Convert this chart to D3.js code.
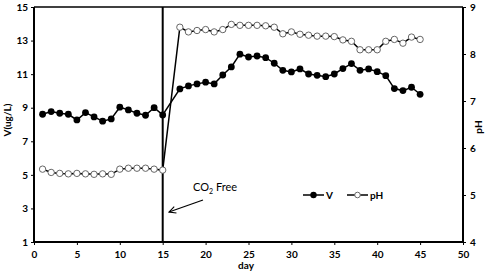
<!DOCTYPE html>
<html>
<head>
<meta charset="utf-8">
<script src="https://cdn.jsdelivr.net/npm/d3@7"></script>
<style>
  body { margin: 0; background: #fff; }
  svg text { font-family: Lato, "Open Sans", sans-serif; }
</style>
</head>
<body>
<svg id="chart" width="486" height="272"></svg>
<script>
// data (day 16 has no sample)
var days = [1,2,3,4,5,6,7,8,9,10,11,12,13,14,15,17,18,19,20,21,22,23,24,25,26,27,28,29,30,31,32,33,34,35,36,37,38,39,40,41,42,43,44,45];
var vValues = [8.61,8.77,8.67,8.61,8.27,8.71,8.45,8.2,8.33,9.03,8.87,8.67,8.55,9.0,8.57,
  10.12,10.3,10.42,10.52,10.42,10.95,11.43,12.19,12.02,12.08,11.98,11.65,11.23,11.13,11.31,11.01,10.93,10.85,11.01,11.33,11.63,11.23,11.31,11.15,10.91,10.14,10.02,10.22,9.8];
var phValues = [5.55,5.48,5.46,5.45,5.46,5.45,5.44,5.45,5.44,5.55,5.57,5.57,5.57,5.55,5.53,
  8.57,8.47,8.5,8.52,8.47,8.52,8.63,8.61,8.61,8.61,8.6,8.57,8.43,8.47,8.42,8.4,8.38,8.38,8.37,8.3,8.27,8.09,8.09,8.09,8.27,8.31,8.23,8.36,8.31];
var xTicks = [0,5,10,15,20,25,30,35,40,45,50];
var vTicks = [1,3,5,7,9,11,13,15];
var phTicks = [4,5,6,7,8,9];
var co2Day = 15;

var svg = d3.select("#chart");
var plotL = 34, plotR = 463, plotT = 7, plotB = 242;

var x = d3.scaleLinear().domain([0, 50]).range([plotL, plotR]);
var yV = d3.scaleLinear().domain([1, 15]).range([plotB, plotT]);
var yPh = d3.scaleLinear().domain([4, 9]).range([plotB, plotT]);
var fmt = d3.format("d");

// axes
var xAxis = svg.append("g").attr("transform", "translate(0," + plotB + ")")
  .call(d3.axisBottom(x).tickValues(xTicks).tickFormat(fmt).tickSize(3).tickPadding(6));
var lAxis = svg.append("g").attr("transform", "translate(" + plotL + ",0)")
  .call(d3.axisLeft(yV).tickValues(vTicks).tickFormat(fmt).tickSize(3).tickPadding(3));
var rAxis = svg.append("g").attr("transform", "translate(" + plotR + ",0)")
  .call(d3.axisRight(yPh).tickValues(phTicks).tickFormat(fmt).tickSize(3).tickPadding(4));

[xAxis, lAxis, rAxis].forEach(function (g) {
  g.select(".domain").remove();
  g.selectAll(".tick line").attr("stroke", "#000").attr("stroke-width", 1);
  g.selectAll(".tick text").attr("fill", "#000").style("font-size", "10px").style("font-weight", "bold");
});

// frame
svg.append("line").attr("x1", plotL).attr("x2", plotR).attr("y1", plotT).attr("y2", plotT)
  .attr("stroke", "#000").attr("stroke-width", 1.5);
svg.append("line").attr("x1", plotL).attr("x2", plotR).attr("y1", plotB).attr("y2", plotB)
  .attr("stroke", "#000").attr("stroke-width", 2);
svg.append("line").attr("x1", plotL).attr("x2", plotL).attr("y1", plotT).attr("y2", plotB)
  .attr("stroke", "#000").attr("stroke-width", 2);
svg.append("line").attr("x1", plotR).attr("x2", plotR).attr("y1", plotT).attr("y2", plotB)
  .attr("stroke", "#000").attr("stroke-width", 2);

// CO2 free marker line
svg.append("line").attr("x1", x(co2Day)).attr("x2", x(co2Day)).attr("y1", plotT).attr("y2", plotB)
  .attr("stroke", "#000").attr("stroke-width", 2);

// series
var vData = days.map(function (d, i) { return [d, vValues[i]]; });
var phData = days.map(function (d, i) { return [d, phValues[i]]; });

svg.append("path").datum(vData)
  .attr("fill", "none").attr("stroke", "#000").attr("stroke-width", 1.5)
  .attr("d", d3.line().x(function (d) { return x(d[0]); }).y(function (d) { return yV(d[1]); }));
svg.append("path").datum(phData)
  .attr("fill", "none").attr("stroke", "#000").attr("stroke-width", 1.5)
  .attr("d", d3.line().x(function (d) { return x(d[0]); }).y(function (d) { return yPh(d[1]); }));

svg.append("g").selectAll("circle").data(vData).join("circle")
  .attr("cx", function (d) { return x(d[0]); }).attr("cy", function (d) { return yV(d[1]); })
  .attr("r", 3.4).attr("fill", "#000");
svg.append("g").selectAll("circle").data(phData).join("circle")
  .attr("cx", function (d) { return x(d[0]); }).attr("cy", function (d) { return yPh(d[1]); })
  .attr("r", 3.2).attr("fill", "#fff").attr("stroke", "#666").attr("stroke-width", 1);

// axis titles
svg.append("text").attr("transform", "translate(11,120) rotate(-90)")
  .attr("text-anchor", "middle").style("font-size", "10px").style("font-weight", "bold").text("V(ug/L)");
svg.append("text").attr("transform", "translate(482,127) rotate(-90)")
  .attr("text-anchor", "middle").style("font-size", "10px").style("font-weight", "bold").text("pH");
svg.append("text").attr("x", 246).attr("y", 269)
  .attr("text-anchor", "middle").style("font-size", "10px").style("font-weight", "bold").text("day");

// annotation
svg.append("defs").append("marker").attr("id", "arrow")
  .attr("viewBox", "0 0 10 10").attr("refX", 9).attr("refY", 5)
  .attr("markerWidth", 7).attr("markerHeight", 7).attr("orient", "auto")
  .append("path").attr("d", "M1,1 L9,5 L1,9").attr("fill", "none").attr("stroke", "#000").attr("stroke-width", 1.3);
svg.append("line").attr("x1", 203).attr("y1", 200).attr("x2", 169).attr("y2", 212)
  .attr("stroke", "#000").attr("stroke-width", 1.2).attr("marker-end", "url(#arrow)");
var lab = svg.append("text").attr("x", 193).attr("y", 191).style("font-size", "11px");
lab.append("tspan").text("CO");
lab.append("tspan").attr("dy", 3).style("font-size", "7px").text("2");
lab.append("tspan").attr("dy", -3).text(" Free");

// legend
var legend = [
  { name: "V", x: 303, filled: true },
  { name: "pH", x: 347, filled: false }
];
var lg = svg.append("g").selectAll("g").data(legend).join("g")
  .attr("transform", function (d) { return "translate(" + d.x + ",195)"; });
lg.append("line").attr("x1", 0).attr("x2", 21).attr("stroke", "#000").attr("stroke-width", 1.5);
lg.append("circle").attr("cx", 10.5).attr("r", function (d) { return d.filled ? 3.2 : 2.8; })
  .attr("fill", function (d) { return d.filled ? "#000" : "#fff"; })
  .attr("stroke", function (d) { return d.filled ? "none" : "#666"; });
lg.append("text").attr("x", 23).attr("y", 3.5).style("font-size", "10px").style("font-weight", "bold")
  .text(function (d) { return d.name; });
</script>
</body>
</html>
